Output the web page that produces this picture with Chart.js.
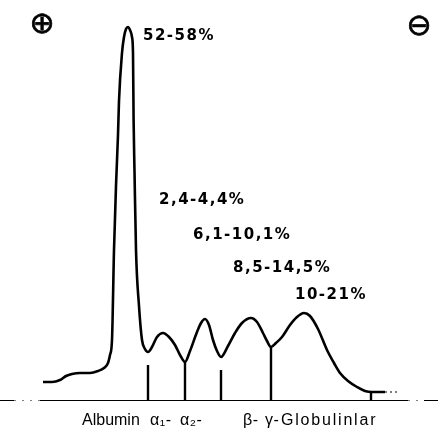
<!DOCTYPE html>
<html>
<head>
<meta charset="utf-8">
<script src="https://cdn.jsdelivr.net/npm/chart.js@4/dist/chart.umd.min.js"></script>
<style>
  html, body { margin: 0; padding: 0; background: #fff; }
  #wrap { width: 438px; height: 430px; position: relative; }
</style>
</head>
<body>
<div id="wrap"><canvas id="c"></canvas></div>
<script>
// Densitometer trace of a serum protein electrophoresis strip:
// migration distance along the strip and optical density of the stain.
const migration = [43, 52, 60, 66, 72, 80, 90, 98, 104, 108, 110, 112, 114, 116, 118, 119, 122, 124, 126, 128,
  130, 132, 133, 133.6, 134.5, 136, 139, 142, 145, 148, 152, 157, 163, 169, 175, 180, 185, 190, 197, 201, 205,
  209, 213, 217, 221, 228, 235, 242, 251, 257, 263, 267, 271, 276, 282, 290, 297, 304, 310, 318, 327, 334, 340,
  348, 357, 365, 372, 385];
const density = [19, 19, 21, 25, 27, 28, 28, 30, 33, 38, 46, 61, 151, 215, 266, 300, 348, 364, 372, 374,
  371, 364, 348, 281, 230, 151, 95, 61, 52, 49, 54, 64, 68, 64, 56, 46, 39, 50, 69, 78, 82,
  76, 61, 50, 44, 55, 68, 78, 83, 79, 68, 60, 54, 58, 64, 76, 84, 88, 85, 72, 51, 38, 28,
  20, 14, 10, 9, 9];

// faint continuation of the trace past the gamma zone
const tailMigration = [385, 400];
const tailDensity = [9, 9];

// cut points between fractions and the height of each separator mark
const fractionBounds = [148, 185, 221, 271, 371];
const boundHeights = [36, 39, 31, 54, 9];

// solid stretches of the strip baseline, and the faint stretches between them
const baselineStarts = [0, 40, 424];
const baselineEnds = [14, 408, 438];
const faintStarts = [14, 408];
const faintEnds = [40, 424];

// share of total protein for each fraction
const fractionShares = ['52-58%', '2,4-4,4%', '6,1-10,1%', '8,5-14,5%', '10-21%'];
// fraction names along the strip
const fractionNames = ['Albumin', 'α₁-', 'α₂-', 'β-', 'γ-', 'Globulinlar'];
// electrode polarity
const poles = ['⊕', '⊖'];

const tracePoints = migration.map((m, i) => ({ x: m, y: density[i] }));
const tailPoints = tailMigration.map((m, i) => ({ x: m, y: tailDensity[i] }));

const separatorPoints = [];
fractionBounds.forEach((b, i) => {
  separatorPoints.push({ x: b, y: 0 }, { x: b, y: boundHeights[i] }, { x: b, y: null });
});

function segments(starts, ends) {
  const pts = [];
  starts.forEach((s, i) => {
    pts.push({ x: s, y: 0 }, { x: ends[i], y: 0 }, { x: ends[i], y: null });
  });
  return pts;
}

const textPlugin = {
  id: 'stripText',
  afterDatasetsDraw(chart, args, opts) {
    const { ctx, scales: { x, y } } = chart;
    ctx.save();
    ctx.fillStyle = '#000';
    ctx.textBaseline = 'middle';
    ctx.textAlign = 'left';

    // percentage labels
    ctx.font = 'bold 15px "DejaVu Sans", sans-serif';
    ctx.letterSpacing = '1.5px';
    opts.shareAnchors.forEach((a, i) => {
      ctx.fillText(fractionShares[i], x.getPixelForValue(a[0]), y.getPixelForValue(a[1]));
    });

    // fraction names under the baseline
    ctx.font = '16px "Liberation Sans", Arial, sans-serif';
    const nameY = chart.chartArea.bottom + opts.nameOffset;
    opts.nameAnchors.forEach((a, i) => {
      ctx.letterSpacing = opts.nameSpacing[i] + 'px';
      ctx.fillText(fractionNames[i], x.getPixelForValue(a), nameY);
    });

    // polarity marks
    ctx.letterSpacing = '0px';
    ctx.textAlign = 'center';
    ctx.font = '30px "DejaVu Sans", sans-serif';
    ctx.lineWidth = 0.7;
    ctx.strokeStyle = '#000';
    opts.poleAnchors.forEach((a, i) => {
      const px = x.getPixelForValue(a[0]);
      const py = y.getPixelForValue(a[1]);
      ctx.fillText(poles[i], px, py);
      ctx.strokeText(poles[i], px, py);
    });
    ctx.restore();
  }
};

new Chart(document.getElementById('c'), {
  type: 'line',
  data: {
    datasets: [
      {
        data: tracePoints,
        borderColor: '#000',
        borderWidth: 2.6,
        pointRadius: 0,
        cubicInterpolationMode: 'monotone',
        fill: false
      },
      {
        data: tailPoints,
        borderColor: '#000',
        borderWidth: 1.2,
        borderDash: [2, 3],
        pointRadius: 0,
        fill: false
      },
      {
        data: separatorPoints,
        borderColor: '#000',
        borderWidth: 2.4,
        pointRadius: 0,
        spanGaps: false,
        tension: 0,
        fill: false
      },
      {
        data: segments(baselineStarts, baselineEnds),
        borderColor: '#000',
        borderWidth: 2,
        pointRadius: 0,
        spanGaps: false,
        tension: 0,
        fill: false
      },
      {
        data: segments(faintStarts, faintEnds),
        borderColor: '#000',
        borderWidth: 1.2,
        borderDash: [2, 6],
        pointRadius: 0,
        spanGaps: false,
        tension: 0,
        fill: false
      }
    ]
  },
  options: {
    responsive: true,
    maintainAspectRatio: false,
    animation: false,
    layout: { padding: { left: 0, right: 0, top: 0, bottom: 29 } },
    scales: {
      x: { type: 'linear', min: 0, max: 438, display: false },
      y: { type: 'linear', min: 0, max: 401, display: false }
    },
    plugins: {
      legend: { display: false },
      tooltip: { enabled: false },
      stripText: {
        shareAnchors: [[143, 365], [159, 201], [193, 166], [233, 133], [295, 106]],
        nameAnchors: [82, 150, 180, 243, 265, 281],
        nameSpacing: [0, 0.5, 0.5, 0.5, 0.5, 1.8],
        nameOffset: 20,
        poleAnchors: [[42, 376], [419, 374]]
      }
    }
  },
  plugins: [textPlugin]
});
</script>
</body>
</html>
